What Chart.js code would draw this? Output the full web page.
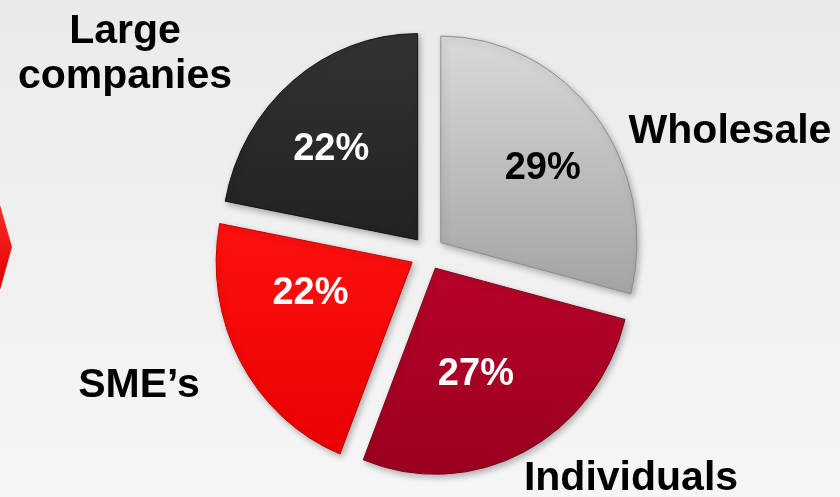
<!DOCTYPE html>
<html><head><meta charset="utf-8">
<script src="https://cdn.jsdelivr.net/npm/chart.js@4/dist/chart.umd.min.js"></script>
<style>html,body{margin:0;padding:0;background:#efefef;overflow:hidden}canvas{display:block}</style>
</head><body>
<canvas id="c" width="840" height="497"></canvas>
<script>
// ---- data ----
const categories = ["Wholesale", "Individuals", "SME\u2019s", "Large companies"];
const shares = [29, 27, 22, 22];
const shareLabels = ["29%", "27%", "22%", "22%"];
const shareLabelColors = ["#000000", "#ffffff", "#ffffff", "#ffffff"];
const sliceTopColors = ["#d9d9d9", "#b8022c", "#ff1010", "#333333"];
const sliceBottomColors = ["#a6a6a6", "#9a0020", "#e80000", "#222222"];
const sliceBorderColors = ["#8c8c8c", "#7a0018", "#c40000", "#111111"];

// label anchors inside slices: [fraction along slice angle, fraction of radius]
const inLabelAnchor = [[0.527, 0.636], [0.55, 0.55], [0.665, 0.54], [0.433, 0.626]];
// outer category label lines and positions (centre x, baseline y)
const outerLabels = [
  {lines: ["Wholesale"], x: 730, y: 143},
  {lines: ["Individuals"], x: 631, y: 490},
  {lines: ["SME\u2019s"], x: 139, y: 397},
  {lines: ["Large", "companies"], x: 125, y: 43}
];
const X_SCALE = 0.95; // the pie is slightly narrower than tall

const FONT = '"Liberation Sans", Arial, Helvetica, sans-serif';

const bgPlugin = {
  id: 'bg',
  beforeDraw(chart) {
    const ctx = chart.ctx, w = chart.width, h = chart.height;
    ctx.save();
    const g = ctx.createLinearGradient(0, 0, 0, h);
    g.addColorStop(0, '#eaeaea');
    g.addColorStop(1, '#f6f6f6');
    ctx.fillStyle = g;
    ctx.fillRect(0, 0, w, h);
    // red chevron decoration at the left edge
    const rg = ctx.createLinearGradient(0, 205, 0, 290);
    rg.addColorStop(0, '#ff2a2a');
    rg.addColorStop(1, '#e00000');
    ctx.fillStyle = rg;
    ctx.beginPath();
    ctx.moveTo(-5, 205);
    ctx.lineTo(0, 205);
    ctx.lineTo(12, 247);
    ctx.lineTo(0, 290);
    ctx.lineTo(-5, 290);
    ctx.closePath();
    ctx.fill();
    ctx.restore();
  }
};

function pieCenterX(chart) {
  return (chart.chartArea.left + chart.chartArea.right) / 2;
}

const shadowPlugin = {
  id: 'shadow',
  beforeDatasetsDraw(chart) {
    const ctx = chart.ctx;
    ctx.save();
    const cx = pieCenterX(chart);
    ctx.translate(cx, 0);
    ctx.scale(X_SCALE, 1);
    ctx.translate(-cx, 0);
    ctx.shadowColor = 'rgba(0,0,0,0.28)';
    ctx.shadowBlur = 6;
    ctx.shadowOffsetX = 2;
    ctx.shadowOffsetY = 3;
  },
  afterDatasetsDraw(chart) {
    chart.ctx.restore();
  }
};

const labelPlugin = {
  id: 'labels',
  afterDatasetsDraw(chart) {
    const ctx = chart.ctx;
    const meta = chart.getDatasetMeta(0);
    const pcx = pieCenterX(chart);
    ctx.save();
    ctx.textAlign = 'center';
    ctx.textBaseline = 'middle';
    ctx.font = 'bold 38px ' + FONT;
    meta.data.forEach((arc, i) => {
      const p = arc.getProps(['x', 'y', 'startAngle', 'endAngle', 'outerRadius']);
      const mid = (p.startAngle + p.endAngle) / 2;
      const off = (arc.options.offset || 0) / 4;
      const cx = p.x + Math.cos(mid) * off;
      const cy = p.y + Math.sin(mid) * off;
      const [fa, fr] = inLabelAnchor[i];
      const a = p.startAngle + (p.endAngle - p.startAngle) * fa;
      const r = p.outerRadius * fr;
      const x = cx + Math.cos(a) * r;
      ctx.fillStyle = shareLabelColors[i];
      ctx.fillText(shareLabels[i], pcx + (x - pcx) * X_SCALE, cy + Math.sin(a) * r + 1);
    });
    ctx.font = 'bold 41px ' + FONT;
    ctx.textBaseline = 'alphabetic';
    ctx.fillStyle = '#000000';
    outerLabels.forEach(l => {
      l.lines.forEach((t, k) => ctx.fillText(t, l.x, l.y + k * 45));
    });
    ctx.restore();
  }
};

function sliceFill(context) {
  const chart = context.chart;
  const area = chart.chartArea;
  const i = context.dataIndex;
  if (!area) return sliceTopColors[i];
  const cy = (area.top + area.bottom) / 2;
  const R = 206;
  let y0 = cy - R, y1 = cy + R;
  if (i === 0) { y0 = cy - R; y1 = cy + 40; }
  if (i === 1) { y0 = cy; y1 = cy + R; }
  if (i === 2) { y0 = cy - 40; y1 = cy + R; }
  if (i === 3) { y0 = cy - R; y1 = cy; }
  const g = chart.ctx.createLinearGradient(0, y0, 0, y1);
  g.addColorStop(0, sliceTopColors[i]);
  g.addColorStop(1, sliceBottomColors[i]);
  return g;
}

new Chart(document.getElementById('c'), {
  type: 'pie',
  data: {
    labels: categories,
    datasets: [{
      data: shares,
      backgroundColor: sliceFill,
      borderColor: sliceBorderColors,
      borderWidth: 1,
      offset: [68, 68, 76, 68]
    }]
  },
  options: {
    responsive: false,
    animation: false,
    devicePixelRatio: 1,
    radius: 206,
    layout: { padding: { left: 16, right: 0, top: 9, bottom: 0 } },
    plugins: {
      legend: { display: false },
      tooltip: { enabled: false }
    }
  },
  plugins: [bgPlugin, shadowPlugin, labelPlugin]
});
</script>
</body></html>
